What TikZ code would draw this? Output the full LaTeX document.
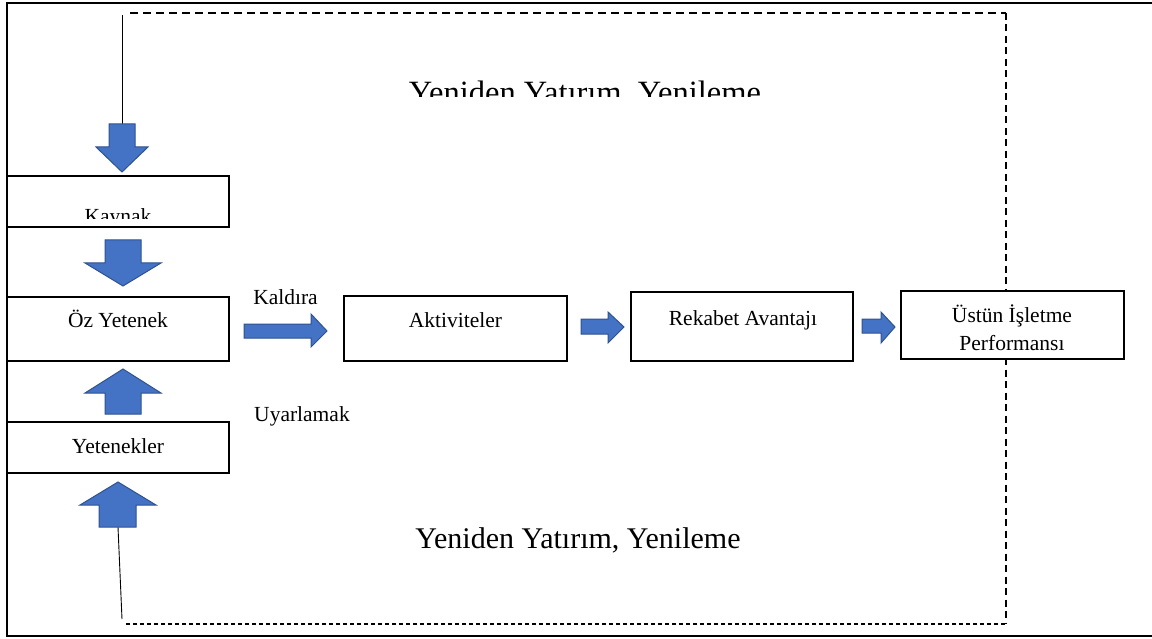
\documentclass[tikz,border=0pt]{standalone}
\usepackage{fontspec}
\setmainfont{Liberation Serif}
\definecolor{arrowblue}{HTML}{4472C4}
\definecolor{arrowedge}{HTML}{2F528F}
\begin{document}
\begin{tikzpicture}[x=1pt,y=-1pt,
  box/.style={draw=black, line width=1.1pt, fill=white, inner sep=0pt},
  lbl/.style={inner sep=0pt, anchor=base, font=\fontsize{21.5}{25}\selectfont},
  blk/.style={fill=arrowblue, draw=arrowedge, line width=1pt, line join=miter},
  frame/.style={line width=1.5pt},
  thinline/.style={line width=0.9pt},
  dashA/.style={line width=2pt, dash pattern=on 8pt off 5pt},
  dashB/.style={line width=2.2pt, dash pattern=on 4.5pt off 2.5pt},
  dashC/.style={line width=2pt, dash pattern=on 7pt off 4.5pt}]
\useasboundingbox (0,0) rectangle (1152,639);
\fill[white] (0,0) rectangle (1152,639);

% outer frame
\draw[frame] (1153,3) -- (7,3) -- (7,636) -- (1153,636);

% dashed feedback loop
\coordinate (d1) at (130,13);
\coordinate (d2) at (1006,13);
\coordinate (d3) at (1006,623);
\coordinate (d4) at (1005,624);
\coordinate (d5) at (123,624);
\draw[dashA] (d1) -- (d2);
\draw[dashC] (d2) -- (d3);
\draw[dashB] (d4) -- (d5);

% boxes
\node[box, minimum width=222pt, minimum height=51pt] (kaynak) at (118,201.5) {};
\node[box, minimum width=222pt, minimum height=64pt] (oz) at (118,329) {};
\node[box, minimum width=222pt, minimum height=51pt] (yet) at (118,447.5) {};
\node[box, minimum width=223pt, minimum height=65pt] (akt) at (455.5,328.5) {};
\node[box, minimum width=222pt, minimum height=69pt] (rek) at (742,326.5) {};
\node[box, minimum width=223pt, minimum height=68pt] (ust) at (1012.5,325) {};

% box texts
\begin{scope}
  \clip (0,150) rectangle (1152,219);
  \node[lbl] (tkaynak) at (118,224) {Kaynak};
\end{scope}
\node[lbl] (toz) at (118,327) {Öz Yetenek};
\node[lbl] (tyet) at (118,453) {Yetenekler};
\node[lbl] (takt) at (455.5,327) {Aktiviteler};
\node[lbl] (trek) at (743,325) {Rekabet Avantajı};
\node[lbl] (tust1) at (1012,323) {Üstün İşletme};
\node[lbl] (tust2) at (1012,350) {Performansı};

% side labels
\node[lbl] (kaldira) at (285.5,305) {Kaldıra};
\node[lbl] (uyar) at (302,421) {Uyarlamak};
\begin{scope}
  \clip (0,0) rectangle (1152,97);
  \node[inner sep=0pt, anchor=base, font=\fontsize{32.5}{36}\selectfont] (ytop) at (585,104) {Yeniden Yatırım, Yenileme};
\end{scope}
\node[inner sep=0pt, anchor=base, font=\fontsize{30}{34}\selectfont] (ybot) at (578,548) {Yeniden Yatırım, Yenileme};

% thin connector lines
\coordinate (tl1) at (122,15);
\coordinate (tl2) at (122,124);
\draw[thinline] (tl1) -- (tl2);
\coordinate (bl1) at (118,527);
\coordinate (bl2) at (122,619);
\draw[thinline] (bl1) -- (bl2);

% block arrows
\filldraw[blk] (109,124) -- (135,124) -- (135,147) -- (148,147) -- (122,172) -- (96,147) -- (109,147) -- cycle;
\filldraw[blk] (105,240) -- (141,240) -- (141,263) -- (161,263) -- (123,286) -- (85,263) -- (105,263) -- cycle;
\filldraw[blk] (105,414) -- (141,414) -- (141,393) -- (161,393) -- (123,369) -- (85,393) -- (105,393) -- cycle;
\filldraw[blk] (99,527) -- (136,527) -- (136,505) -- (156,505) -- (118,482) -- (80,505) -- (99,505) -- cycle;
\filldraw[blk] (244,324) -- (311,324) -- (311,314) -- (327,331) -- (311,347) -- (311,338) -- (244,338) -- cycle;
\filldraw[blk] (581,319) -- (608,319) -- (608,312) -- (624,327) -- (608,343) -- (608,334) -- (581,334) -- cycle;
\filldraw[blk] (862,319) -- (881,319) -- (881,312) -- (895,327) -- (881,343) -- (881,333) -- (862,333) -- cycle;
\end{tikzpicture}
\end{document}
